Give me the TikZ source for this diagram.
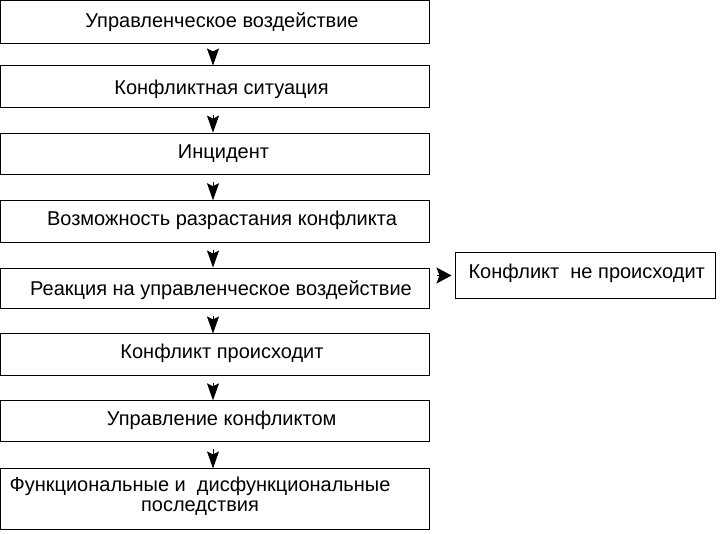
\documentclass[tikz,border=0pt]{standalone}
\usepackage{fontspec}
\setmainfont{Liberation Sans}
\usetikzlibrary{arrows.meta}

\begin{document}
\begin{tikzpicture}[x=1pt,y=-1pt,
  box/.style={draw,line width=1pt,minimum width=429pt,inner sep=0pt},
  lbl/.style={anchor=base,inner sep=0pt,font=\fontsize{20}{20}\selectfont},
  varr/.style={line width=1pt,-{Stealth[length=17pt,width=12pt,inset=3pt]},shorten <=7pt},
  harr/.style={line width=1pt,-{Stealth[length=15pt,width=16pt,inset=3pt]},shorten <=7pt,shorten >=3pt}]
  \useasboundingbox (0,0) rectangle (721,534);
  \path (215,22.2) node[box,minimum height=43.5pt] (b1) {}
  (215,87) node[box,minimum height=42pt] (b2) {}
  (215,154) node[box,minimum height=41.7pt] (b3) {}
  (215,221.4) node[box,minimum height=41.3pt] (b4) {}
  (215,288.4) node[box,minimum height=40.7pt] (b5) {}
  (215,355) node[box,minimum height=42pt] (b6) {}
  (215,421) node[box,minimum height=40.3pt] (b7) {}
  (215,499.2) node[box,minimum height=60.5pt] (b8) {}
  (585,275.5) node[box,minimum width=260pt,minimum height=45.6pt] (r) {};
  \path (222,27.3) node[lbl] (t1) {Управленческое воздействие}
  (221.5,94.3) node[lbl] (t2) {Конфликтная ситуация}
  (223.5,158.7) node[lbl] (t3) {Инцидент}
  (222,225.7) node[lbl] (t4) {Возможность разрастания конфликта}
  (221,295.5) node[lbl] (t5) {Реакция на управленческое воздействие}
  (222,358.7) node[lbl] (t6) {Конфликт происходит}
  (221.7,426) node[lbl] (t7) {Управление конфликтом}
  (200,512) node[lbl,align=center] (t8) {Функциональные и~~дисфункциональные\\последствия}
  (586.7,278.3) node[lbl] (rt) {Конфликт~~не происходит};
  % arrows down the column
  \foreach \a/\b in {b1/b2,b2/b3,b3/b4,b4/b5,b5/b6,b6/b7,b7/b8}
    \draw[varr] ([xshift=-2pt]\a.south) -- ([xshift=-2pt]\b.north);
  \draw[harr] (b5.east |- r.west) -- (r.west);
\end{tikzpicture}
\end{document}
